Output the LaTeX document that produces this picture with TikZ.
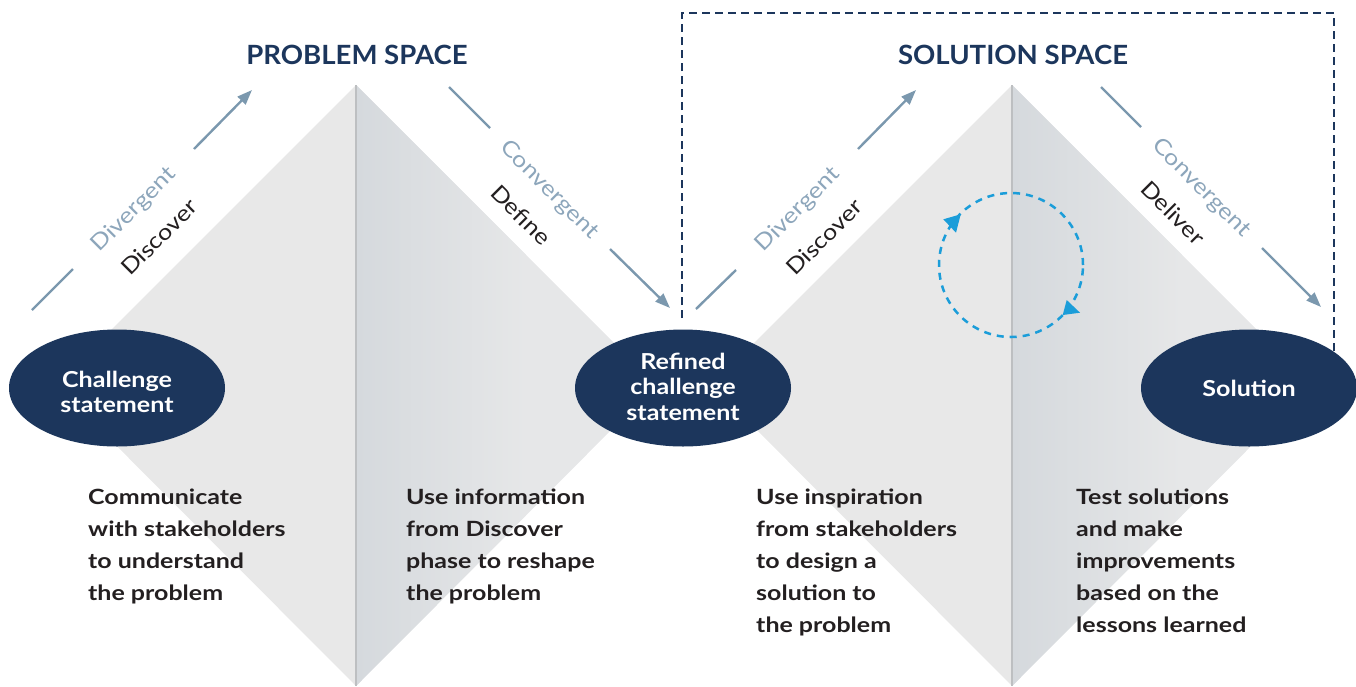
\documentclass[tikz,border=0pt]{standalone}
\usepackage{fontspec}
\setmainfont{Lato}
\newfontfamily\descfont{Lato}[FakeStretch=1.19]
\newfontfamily\ovalfont{Lato}[FakeStretch=1.14]
\newfontfamily\lblfont{Lato}[FakeStretch=1.15]
\newfontfamily\headfont{Lato}[FakeStretch=1.04]
\usetikzlibrary{arrows.meta,shapes.geometric}

\definecolor{navy}{HTML}{1C365C}
\definecolor{steel}{HTML}{7B98AE}
\definecolor{steellbl}{HTML}{8DA6BB}
\definecolor{ink}{HTML}{231F20}
\definecolor{cyc}{HTML}{1B9DD9}
\definecolor{halfL}{HTML}{E8E8E8}
\definecolor{halfRd}{HTML}{D5D9DD}
\definecolor{halfRl}{HTML}{E6E7E8}
\definecolor{midline}{HTML}{BDBFC1}

\tikzset{
  phase/.style={ellipse, fill=navy, minimum width=216pt,
    minimum height=117pt, inner sep=0pt},
  phasetext/.style={text=white, inner sep=0pt, align=center,
    font=\ovalfont\bfseries\fontsize{22}{25.5}\selectfont},
  spacetitle/.style={text=navy, inner sep=0pt, font=\headfont\bfseries\fontsize{26.5}{30}\selectfont},
  flow/.style={draw=steel, line width=2.4pt},
  flowtip/.style={flow, -{Triangle[length=15pt,width=11pt]}},
  modelbl/.style={text=steellbl, inner sep=0pt, font=\lblfont\fontsize{22}{24}\selectfont},
  phaselbl/.style={text=ink, inner sep=0pt, font=\lblfont\fontsize{22}{24}\selectfont},
  desc/.style={text=ink, inner sep=0pt, align=left, anchor=north west,
    font=\descfont\bfseries\fontsize{21}{32}\selectfont},
  frame/.style={draw=navy, line width=2pt, dash pattern=on 8pt off 5pt},
  loop/.style={draw=cyc, line width=2.5pt, dash pattern=on 7pt off 6pt},
}

\begin{document}
\begin{tikzpicture}[x=1pt,y=-1pt]
\useasboundingbox (0,0) rectangle (1356,686);

% the two diamonds: flat left half, shaded right half, centre rule
\foreach \cx in {356,1012}{
  \fill[halfL] (\cx,85) -- (\cx-300,385) -- (\cx,686) -- cycle;
  \fill[halfRl] (\cx,85) -- (\cx+300,385) -- (\cx,686) -- cycle;
  \begin{scope}
    \clip (\cx,85) -- (\cx+300,385) -- (\cx,686) -- cycle;
    \shade[left color=halfRd, right color=halfRl] (\cx,80) rectangle (\cx+170,690);
  \end{scope}
  \draw[midline, line width=2.5pt] (\cx,85) -- (\cx,686);
}

% dashed frame around the solution space
\coordinate (fa) at (682,318);
\coordinate (fb) at (682,13);
\coordinate (fc) at (1334,13);
\coordinate (fd) at (1334,362);
\draw[frame] (fa) -- (fb) -- (fc) -- (fd);

% titles
\node[spacetitle] (ptitle) at (357,55) {PROBLEM SPACE};
\node[spacetitle] (stitle) at (1013,55) {SOLUTION SPACE};

% iteration loop
\coordinate (loopc) at (1011,265);
\draw[loop] (loopc) circle[radius=72pt];
\fill[cyc] (960.7,214.3) -- (943.3,219.3) -- (956,232.7) -- cycle;
\fill[cyc] (1062.7,315) -- (1066.7,300) -- (1080,312.7) -- cycle;

% flow arrows
\coordinate (d1a) at (32,310);  \coordinate (d1b) at (73,269);
\coordinate (d1c) at (194,149); \coordinate (d1d) at (252,90);
\coordinate (c1a) at (449,87);  \coordinate (c1b) at (490,128);
\coordinate (c1c) at (610,249); \coordinate (c1d) at (670,308);
\coordinate (d2a) at (696,309); \coordinate (d2b) at (736,270);
\coordinate (d2c) at (858,149); \coordinate (d2d) at (916,90);
\coordinate (c2a) at (1101,87); \coordinate (c2b) at (1141,127);
\coordinate (c2c) at (1262,248);\coordinate (c2d) at (1321,307);
\draw[flow] (d1a) -- (d1b);  \draw[flowtip] (d1c) -- (d1d);
\draw[flow] (c1a) -- (c1b);  \draw[flowtip] (c1c) -- (c1d);
\draw[flow] (d2a) -- (d2b);  \draw[flowtip] (d2c) -- (d2d);
\draw[flow] (c2a) -- (c2b);  \draw[flowtip] (c2c) -- (c2d);

% mode and phase labels along the arrows
\node[modelbl, rotate=45]  (dv1) at (134,210) {Divergent};
\node[phaselbl, rotate=45] (ds1) at (159,237) {Discover};
\node[modelbl, rotate=-45] (cv1) at (549,190) {Convergent};
\node[phaselbl, rotate=-45](df1) at (521,215) {Define};
\node[modelbl, rotate=45]  (dv2) at (798,210) {Divergent};
\node[phaselbl, rotate=45] (ds2) at (824,237) {Discover};
\node[modelbl, rotate=-45] (cv2) at (1201,188) {Convergent};
\node[phaselbl, rotate=-45](dl2) at (1173,213) {Deliver};

% milestones
\node[phase] (challenge) at (117,388) {};
\node[phase] (refined) at (683,388) {};
\node[phase] (solution) at (1249,388) {};
\node[phasetext] (challengetxt) at ([yshift=-4pt]challenge.center) {Challenge\\statement};
\node[phasetext] (refinedtxt) at ([yshift=1.5pt]refined.center) {Refined\\challenge\\statement};
\node[phasetext] (solutiontxt) at (solution.center) {Solution};

% phase descriptions
\node[desc] (t1) at (88,489) {Communicate\\with stakeholders\\to understand\\the problem};
\node[desc] (t2) at (406,489) {Use information\\from Discover\\phase to reshape\\the problem};
\node[desc] (t3) at (756,489) {Use inspiration\\from stakeholders\\to design a\\solution to\\the problem};
\node[desc] (t4) at (1076,489) {Test solutions\\and make\\improvements\\based on the\\lessons learned};
\end{tikzpicture}
\end{document}
